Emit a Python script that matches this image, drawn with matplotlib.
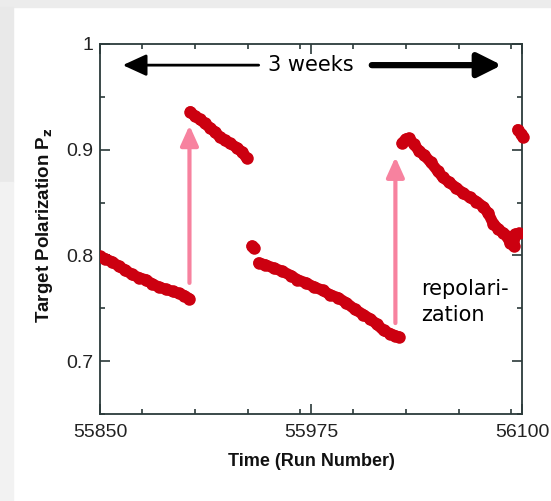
import matplotlib
matplotlib.use('Agg')
import matplotlib.pyplot as plt
from matplotlib.patches import Rectangle
from matplotlib.ticker import MultipleLocator, FixedLocator

#*******************************************************************************
# data (run number, target polarization)

run_1 = [55850, 55853, 55857, 55861, 55865, 55869, 55873, 55877, 55881, 55885, 55889, 55893, 55897, 55900, 55903]
pol_1 = [0.799, 0.797, 0.794, 0.790, 0.786, 0.782, 0.779, 0.777, 0.773, 0.770, 0.768, 0.766, 0.764, 0.762, 0.759]

run_2 = [55903.5, 55906, 55909, 55912, 55915, 55918, 55921, 55924, 55927, 55931, 55934, 55937]
pol_2 = [0.936, 0.932, 0.929, 0.925, 0.921, 0.917, 0.912, 0.909, 0.906, 0.902, 0.898, 0.892]

run_dot = [55940, 55941]
pol_dot = [0.809, 0.807]

run_3 = [55944, 55948, 55953, 55958, 55963, 55967, 55972, 55977, 55982, 55986,
         55991, 55996, 56001, 56006, 56010, 56014, 56018, 56022, 56025, 56027]
pol_3 = [0.793, 0.791, 0.788, 0.785, 0.781, 0.777, 0.774, 0.770, 0.767, 0.763,
         0.760, 0.755, 0.749, 0.744, 0.740, 0.735, 0.729, 0.726, 0.724, 0.723]

run_4 = [56029, 56031, 56033, 56036, 56039, 56042, 56046, 56050, 56053, 56057, 56061, 56065,
         56069, 56073, 56077, 56080, 56083, 56086, 56089, 56091, 56093, 56095, 56096, 56098]
pol_4 = [0.906, 0.910, 0.911, 0.905, 0.899, 0.895, 0.888, 0.880, 0.874, 0.869, 0.864, 0.859,
         0.855, 0.851, 0.846, 0.840, 0.830, 0.825, 0.821, 0.818, 0.812, 0.809, 0.820, 0.821]

run_5 = [56097.5, 56099.5, 56100.5]
pol_5 = [0.919, 0.915, 0.912]

# repolarization arrows: (run, from, to)
repol_arrows = [(55903, 0.774, 0.923), (56025, 0.736, 0.893)]

x_major = [55850, 55975, 56100]
y_major = [0.7, 0.8, 0.9, 1.0]
y_labels = ['0.7', '0.8', '0.9', '1']

#*******************************************************************************

red = '#cc0010'
pink = '#f7829f'

fig = plt.figure(figsize=(5.51, 5.01), dpi=100)
fig.patch.set_facecolor('white')
# slide background strips
fig.patches.append(Rectangle((0, 1 - 7/501), 1, 7/501, transform=fig.transFigure, color='#ececec', zorder=0))
fig.patches.append(Rectangle((0, 1 - 182/501), 13/551, 175/501, transform=fig.transFigure, color='#e9e9e9', zorder=0))
fig.patches.append(Rectangle((0, 0), 13/551, 1 - 182/501, transform=fig.transFigure, color='#f2f2f2', zorder=0))

ax = fig.add_axes([100/551, 87/501, 422/551, 370/501])

for r, p in [(run_1, pol_1), (run_2, pol_2), (run_dot, pol_dot), (run_3, pol_3), (run_4, pol_4)]:
	ax.plot(r, p, '-o', color=red, lw=8, ms=9, mew=0, solid_capstyle='round', solid_joinstyle='round', zorder=3)
ax.plot(run_5, pol_5, '-o', color=red, lw=8, ms=9, mew=0, solid_capstyle='round', clip_on=False, zorder=3)

for xr, y0, y1 in repol_arrows:
	ax.annotate('', xy=(xr, y1), xytext=(xr, y0),
				arrowprops=dict(arrowstyle='-|>,head_width=0.45,head_length=1.0', color=pink, lw=3, mutation_scale=12, shrinkA=0, shrinkB=0))

# "3 weeks" double arrow
ax.text(55975, 0.9805, '3 weeks', ha='center', va='center', fontsize=15, color='black', family='DejaVu Sans')
ax.annotate('', xy=(55863.5, 0.980), xytext=(55944, 0.980),
			arrowprops=dict(arrowstyle='-|>,head_width=0.55,head_length=1.2', color='black', lw=2, mutation_scale=12, shrinkA=0, shrinkB=0))
ax.annotate('', xy=(56088, 0.980), xytext=(56011, 0.980),
			arrowprops=dict(arrowstyle='-|>,head_width=0.6,head_length=1.2', color='black', lw=4.5, mutation_scale=12, shrinkA=0, shrinkB=0))

ax.text(56040, 0.756, 'repolari-\nzation', ha='left', va='center', fontsize=15, linespacing=1.35, family='DejaVu Sans')

ax.set_xlim(55850, 56100)
ax.set_ylim(0.65, 1.0)
ax.xaxis.set_major_locator(FixedLocator(x_major))
ax.xaxis.set_minor_locator(MultipleLocator(31.25))
ax.set_yticks(y_major)
ax.set_yticklabels(y_labels)
ax.yaxis.set_minor_locator(MultipleLocator(0.05))
ax.tick_params(which='both', direction='in', top=True, right=True, color='#2b3a3a', width=1.2,
			   labelsize=14, labelcolor='#222222')
ax.tick_params(which='major', length=7)
ax.tick_params(which='minor', length=3.6)
ax.tick_params(axis='x', pad=7)
ax.tick_params(axis='y', pad=5)
for lbl in ax.get_xticklabels() + ax.get_yticklabels():
	lbl.set_family('Liberation Sans')
for s in ax.spines.values():
	s.set_color('#2b3a3a')
	s.set_linewidth(1.3)

fig.text(311/551, 1 - 462/501, 'Time (Run Number)', ha='center', va='center', fontsize=13,
		 fontweight='bold', family='Liberation Sans', color='#111111')
fig.text(45/551, 1 - 225/501, 'Target Polarization P$_\\mathbf{z}$', ha='center', va='center', rotation=90,
		 fontsize=13.5, fontweight='bold', family='Liberation Sans', color='#111111')

plt.savefig('out.png', dpi=100)
plt.close()
